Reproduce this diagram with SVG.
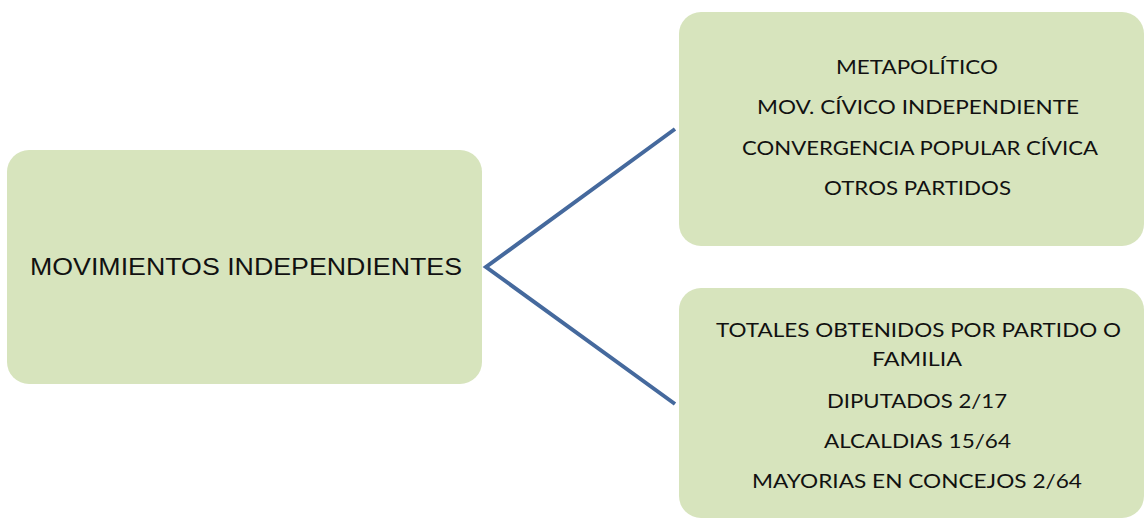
<svg xmlns="http://www.w3.org/2000/svg" width="1145" height="519" viewBox="0 0 1145 519">
<style>
.box{fill:#d7e4bd;}
.conn{stroke:#45699d;stroke-width:4;fill:none;stroke-linecap:butt;stroke-linejoin:miter;}
.t1{font-family:"Liberation Sans",Arial,sans-serif;font-size:24px;fill:#111;text-anchor:middle;}
.t2{font-family:Lato,"Open Sans",sans-serif;font-size:20px;fill:#111;text-anchor:middle;}
</style>
<rect width="1145" height="519" fill="#fff"/>
<g id="connectors">
<polyline class="conn" points="675,129 486,267 675,404"/>
</g>
<g id="node-main">
<rect class="box" x="7" y="150" width="475" height="234" rx="22" ry="22"/>
<text class="t1" x="246" y="275" textLength="432" lengthAdjust="spacingAndGlyphs">MOVIMIENTOS INDEPENDIENTES</text>
</g>
<g id="node-top">
<rect class="box" x="679" y="12" width="465" height="234" rx="22" ry="22"/>
<text class="t2" x="917" y="74" textLength="162" lengthAdjust="spacingAndGlyphs">METAPOLÍTICO</text>
<text class="t2" x="918" y="114" textLength="322" lengthAdjust="spacingAndGlyphs">MOV. CÍVICO INDEPENDIENTE</text>
<text class="t2" x="920" y="155" textLength="356" lengthAdjust="spacingAndGlyphs">CONVERGENCIA POPULAR CÍVICA</text>
<text class="t2" x="917.5" y="195" textLength="187" lengthAdjust="spacingAndGlyphs">OTROS PARTIDOS</text>
</g>
<g id="node-bottom">
<rect class="box" x="679" y="288" width="465" height="230" rx="22" ry="22"/>
<text class="t2" x="918.5" y="337" textLength="405" lengthAdjust="spacingAndGlyphs">TOTALES OBTENIDOS POR PARTIDO O</text>
<text class="t2" x="917" y="366" textLength="90" lengthAdjust="spacingAndGlyphs">FAMILIA</text>
<text class="t2" x="917" y="408" textLength="180" lengthAdjust="spacingAndGlyphs">DIPUTADOS 2/17</text>
<text class="t2" x="917.5" y="448" textLength="187" lengthAdjust="spacingAndGlyphs">ALCALDIAS 15/64</text>
<text class="t2" x="917" y="488" textLength="330" lengthAdjust="spacingAndGlyphs">MAYORIAS EN CONCEJOS 2/64</text>
</g>
</svg>
